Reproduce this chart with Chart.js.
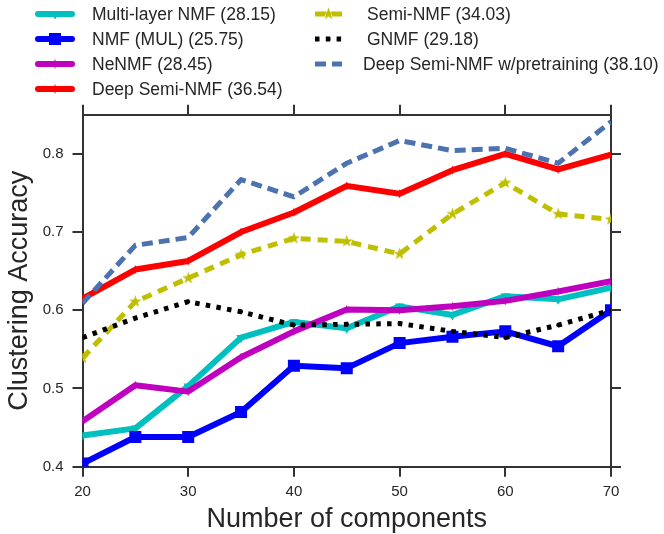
<!DOCTYPE html>
<html>
<head>
<meta charset="utf-8">
<script src="https://cdn.jsdelivr.net/npm/chart.js@4.4.0/dist/chart.umd.min.js"></script>
<style>
    html, body { margin: 0; padding: 0; background: #fff; }
    canvas { display: block; }
</style>
</head>
<body>
<canvas id="grafico" width="664" height="534"></canvas>
<script>
// Dados
const componentes = [20, 25, 30, 35, 40, 45, 50, 55, 60, 65, 70];
const multiLayerNMF = [0.440, 0.449, 0.503, 0.565, 0.585, 0.577, 0.605, 0.594, 0.618, 0.614, 0.629];
const nmfMul = [0.404, 0.438, 0.438, 0.470, 0.529, 0.526, 0.558, 0.566, 0.573, 0.554, 0.600];
const neNMF = [0.458, 0.504, 0.496, 0.540, 0.573, 0.601, 0.600, 0.605, 0.612, 0.624, 0.637];
const deepSemiNMF = [0.615, 0.652, 0.663, 0.700, 0.725, 0.759, 0.749, 0.779, 0.800, 0.780, 0.799];
const semiNMF = [0.539, 0.611, 0.641, 0.671, 0.692, 0.688, 0.672, 0.723, 0.763, 0.723, 0.716];
const gnmf = [0.565, 0.590, 0.611, 0.598, 0.581, 0.582, 0.583, 0.573, 0.565, 0.581, 0.600];
const deepSemiNMFPre = [0.609, 0.683, 0.693, 0.767, 0.745, 0.788, 0.817, 0.804, 0.807, 0.788, 0.841];

const nomes = [
    'Multi-layer NMF (28.15)',
    'NMF (MUL) (25.75)',
    'NeNMF (28.45)',
    'Deep Semi-NMF (36.54)',
    'Semi-NMF (34.03)',
    'GNMF (29.18)',
    'Deep Semi-NMF w/pretraining (38.10)'
];
const xTicks = [20, 30, 40, 50, 60, 70];
const yTicks = [0.4, 0.5, 0.6, 0.7, 0.8];

const FONTE = '"Liberation Sans", Arial, Helvetica, sans-serif';
const COR_TEXTO = '#262626';
const COR_EIXO = '#333333';

// estrela preenchida (marcador '*' do matplotlib)
function criarEstrela(cor, r) {
    const c = document.createElement('canvas');
    const s = Math.ceil(r * 2 + 2);
    c.width = s; c.height = s;
    const g = c.getContext('2d');
    g.fillStyle = cor;
    g.beginPath();
    for (let i = 0; i < 10; i++) {
        const rr = i % 2 === 0 ? r : r * 0.4;
        const a = -Math.PI / 2 + i * Math.PI / 5;
        const px = s / 2 + rr * Math.cos(a);
        const py = s / 2 + rr * Math.sin(a);
        if (i === 0) g.moveTo(px, py); else g.lineTo(px, py);
    }
    g.closePath();
    g.fill();
    return c;
}
const estrela = criarEstrela('#BFBF00', 6.5);

function serie(valores) {
    return componentes.map((c, i) => ({ x: c, y: valores[i] }));
}

const datasets = [
    { label: nomes[0], data: serie(multiLayerNMF), borderColor: '#00BFBF', backgroundColor: '#00BFBF',
      borderWidth: 6, pointStyle: 'triangle', rotation: 180, pointRadius: 5.5, pointBorderWidth: 0 },
    { label: nomes[1], data: serie(nmfMul), borderColor: '#0000FF', backgroundColor: '#0000FF',
      borderWidth: 6, pointStyle: 'rect', pointRadius: 8.5, pointBorderWidth: 0 },
    { label: nomes[2], data: serie(neNMF), borderColor: '#BF00BF', backgroundColor: '#BF00BF',
      borderWidth: 6, pointStyle: 'cross', pointRadius: 4, pointBorderWidth: 1 },
    { label: nomes[3], data: serie(deepSemiNMF), borderColor: '#FF0000', backgroundColor: '#FF0000',
      borderWidth: 6, pointStyle: 'cross', pointRadius: 4, pointBorderWidth: 1 },
    { label: nomes[4], data: serie(semiNMF), borderColor: '#BFBF00', backgroundColor: '#BFBF00',
      borderWidth: 5, borderDash: [10, 7], pointStyle: estrela, pointRadius: 6 },
    { label: nomes[5], data: serie(gnmf), borderColor: '#000000', backgroundColor: '#000000',
      borderWidth: 5, borderDash: [4.5, 6.3], pointStyle: 'circle', pointRadius: 2, pointBorderWidth: 0 },
    { label: nomes[6], data: serie(deepSemiNMFPre), borderColor: '#4C72B0', backgroundColor: '#4C72B0',
      borderWidth: 5, borderDash: [11, 6], pointRadius: 0 }
];
datasets.forEach((ds, i) => {
    ds.order = datasets.length - i; // o último fica por cima
    ds.clip = 0;
    ds.tension = 0;
    ds.fill = false;
    ds.borderJoinStyle = 'round';
    ds.pointHoverRadius = ds.pointRadius;
});

// legenda desenhada à mão, em duas colunas
const legendaPlugin = {
    id: 'legendaManual',
    afterDraw(chart) {
        const ctx = chart.ctx;
        ctx.save();
        ctx.font = '17.5px ' + FONTE;
        ctx.textBaseline = 'middle';
        chart.data.datasets.forEach((ds, i) => {
            const col = i < 4 ? 0 : 1;
            const linha = col === 0 ? i : i - 4;
            const y = 14 + linha * 25;
            const x0 = col === 0 ? 35 : 315;
            const x1 = col === 0 ? 75 : 342;
            const xt = col === 0 ? 92 : (i === 6 ? 363 : 367);

            ctx.strokeStyle = ds.borderColor;
            ctx.lineWidth = ds.borderWidth;
            ctx.setLineDash(ds.borderDash || []);
            ctx.lineCap = ds.borderDash ? 'butt' : 'round';
            ctx.beginPath();
            ctx.moveTo(x0 + (ds.borderDash ? 0 : 3), y);
            ctx.lineTo(x1 - (ds.borderDash ? 0 : 3), y);
            ctx.stroke();
            ctx.setLineDash([]);

            if (ds.pointRadius > 0) {
                ctx.fillStyle = ds.backgroundColor;
                ctx.strokeStyle = ds.borderColor;
                ctx.lineWidth = ds.pointBorderWidth || 0;
                Chart.helpers.drawPoint(ctx, {
                    pointStyle: ds.pointStyle,
                    rotation: ds.rotation || 0,
                    radius: ds.pointRadius,
                    borderWidth: ds.pointBorderWidth || 0
                }, (x0 + x1) / 2, y);
            }

            ctx.fillStyle = COR_TEXTO;
            ctx.fillText(ds.label, xt, y + 1);
        });
        ctx.restore();
    }
};

const gradeEixo = {
    drawOnChartArea: false,
    drawTicks: true,
    tickLength: 10,
    color: COR_EIXO,
    lineWidth: 2
};
const bordaEixo = { display: true, color: COR_EIXO, width: 2 };

new Chart(document.getElementById('grafico').getContext('2d'), {
    type: 'line',
    data: { datasets: datasets },
    options: {
        responsive: false,
        animation: false,
        devicePixelRatio: 1,
        layout: { padding: 0 },
        plugins: { legend: { display: false }, tooltip: { enabled: false } },
        scales: {
            x: {
                type: 'linear', position: 'bottom', min: 20, max: 70,
                afterBuildTicks: (ax) => { ax.ticks = xTicks.map(v => ({ value: v })); },
                afterFit: (ax) => { ax.height = 67.3; },
                grid: gradeEixo, border: bordaEixo,
                ticks: { padding: 6, color: COR_TEXTO, font: { family: FONTE, size: 15 }, maxRotation: 0 },
                title: { display: true, text: 'Number of components', color: COR_TEXTO,
                         font: { family: FONTE, size: 27, lineHeight: 1 }, padding: { top: 0, bottom: 0.5 } }
            },
            x2: {
                type: 'linear', position: 'top', min: 20, max: 70,
                afterBuildTicks: (ax) => { ax.ticks = xTicks.map(v => ({ value: v })); },
                afterFit: (ax) => { ax.height = 114.7; },
                grid: gradeEixo, border: bordaEixo,
                ticks: { display: false }
            },
            y: {
                type: 'linear', position: 'left', min: 0.4, max: 0.85,
                afterBuildTicks: (ax) => { ax.ticks = yTicks.map(v => ({ value: v })); },
                afterFit: (ax) => { ax.width = 82.5; },
                grid: gradeEixo, border: bordaEixo,
                ticks: { padding: 9, color: COR_TEXTO, font: { family: FONTE, size: 15 },
                         callback: (v) => v.toFixed(1) },
                title: { display: true, text: 'Clustering Accuracy', color: COR_TEXTO,
                         font: { family: FONTE, size: 27, lineHeight: 1 }, padding: { top: 6.5, bottom: 0 } }
            },
            y2: {
                type: 'linear', position: 'right', min: 0.4, max: 0.85,
                afterBuildTicks: (ax) => { ax.ticks = yTicks.map(v => ({ value: v })); },
                afterFit: (ax) => { ax.width = 53; },
                grid: gradeEixo, border: bordaEixo,
                ticks: { display: false }
            }
        }
    },
    plugins: [legendaPlugin]
});
</script>
</body>
</html>
